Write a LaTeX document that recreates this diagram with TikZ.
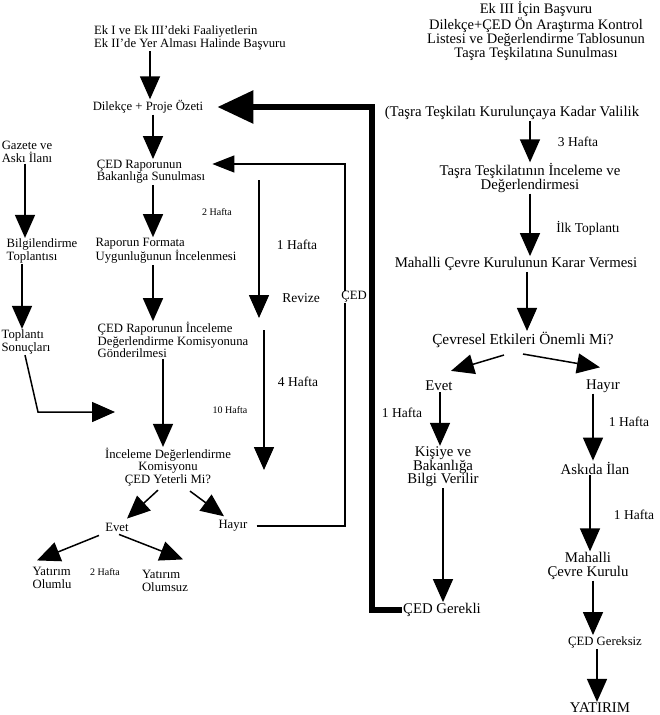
\documentclass[tikz,border=0pt]{standalone}
\usepackage{fontspec}
\setmainfont{Liberation Serif}
\usetikzlibrary{arrows.meta,calc}
\begin{document}
\begin{tikzpicture}[x=1pt,y=-1pt,
  txt/.style={inner sep=1pt, font=\fontsize{12.7}{12.3}\selectfont, align=left},
  ctxt/.style={inner sep=1pt, font=\fontsize{12.7}{12.3}\selectfont, align=center},
  rtxt/.style={inner sep=1pt, font=\fontsize{14.8}{13.5}\selectfont, align=center},
  sml/.style={inner sep=1pt, font=\fontsize{10}{10}\selectfont},
  lbl/.style={inner sep=1pt, font=\fontsize{13.5}{13.5}\selectfont},
  arr/.style={draw, line width=1.5pt, -{Triangle[width=20pt,length=23pt]}},
  thinarr/.style={draw, line width=1.2pt, line join=miter, -{Triangle[width=17pt,length=22pt]}},
  fatarr/.style={draw, line width=6pt, line join=miter, -{Triangle[width=32pt,length=36pt]}}
]
\fill[white] (0,0) rectangle (659,715);
\useasboundingbox (0,0) rectangle (659,715);

% ---- left column
\node[txt] (ek1) at (190,38) {Ek I ve Ek III'deki Faaliyetlerin\\Ek II'de Yer Alması Halinde Başvuru};
\node[txt] (dil) at (148,107) {Dilekçe + Proje Özeti};
\node[txt] (ced1) at (151,172) {ÇED Raporunun\\Bakanlığa Sunulması};
\node[txt] (rap) at (166,251) {Raporun Formata\\Uygunluğunun İncelenmesi};
\node[txt] (ced2) at (173,340) {ÇED Raporunun İnceleme\\Değerlendirme Komisyonuna\\Gönderilmesi};
\node[ctxt] (ince) at (168,467) {İnceleme Değerlendirme\\Komisyonu\\ÇED Yeterli Mi?};
\node[txt] (evetL) at (117,527) {Evet};
\node[txt] (hayirL) at (233,526) {Hayır};
\node[txt] (yatOl) at (52,578) {Yatırım\\Olumlu};
\node[txt] (yatOs) at (165,581) {Yatırım\\Olumsuz};
\node[sml] (haf2b) at (105,572) {2 Hafta};

\node[txt] (gaz) at (27,152) {Gazete ve\\Askı İlanı};
\node[txt] (bil) at (42,251) {Bilgilendirme\\Toplantısı};
\node[txt] (top) at (26,342) {Toplantı\\Sonuçları};

\node[sml] (haf2a) at (217,212) {2 Hafta};
\node[lbl] (haf1) at (297,245) {1 Hafta};
\node[lbl] (rev) at (301,298) {Revize};
\node[lbl] (haf4) at (298,382) {4 Hafta};
\node[sml] (haf10) at (230,410) {10 Hafta};

% ---- right column
\node[rtxt, font=\fontsize{14.5}{12.6}\selectfont] (title) at (536,31) {Ek III İçin Başvuru\\Dilekçe+ÇED Ön Araştırma Kontrol\\Listesi ve Değerlendirme Tablosunun\\Taşra Teşkilatına Sunulması};
\node[rtxt] (val) at (512,113) {(Taşra Teşkilatı Kurulunçaya Kadar Valilik};
\node[lbl] (haf3) at (578,142) {3 Hafta};
\node[rtxt] (tasra) at (530,178) {Taşra Teşkilatının İnceleme ve\\Değerlendirmesi};
\node[lbl] (ilk) at (588,228) {İlk Toplantı};
\node[rtxt] (mah) at (516,264) {Mahalli Çevre Kurulunun Karar Vermesi};
\node[rtxt, font=\fontsize{15.3}{14}\selectfont] (cev) at (523,340) {Çevresel Etkileri Önemli Mi?};
\node[rtxt] (evetR) at (439,386) {Evet};
\node[rtxt] (hayirR) at (603,386) {Hayır};
\node[lbl] (haf1a) at (402,413) {1 Hafta};
\node[rtxt] (kisi) at (443,467) {Kişiye ve\\Bakanlığa\\Bilgi Verilir};
\node[lbl] (haf1b) at (629,422) {1 Hafta};
\node[rtxt] (aski) at (595,468) {Askıda İlan};
\node[lbl] (haf1c) at (634,515) {1 Hafta};
\node[rtxt] (mcev) at (588,566) {Mahalli\\Çevre Kurulu};
\node[ctxt] (gereksiz) at (605,642) {ÇED Gereksiz};
\node[rtxt] (yat) at (600,708) {YATIRIM};
\node[rtxt] (gerekli) at (442,610) {ÇED Gerekli};

% ---- left arrows
\draw[arr] (150,0 |- ek1.south) -- (150,0 |- dil.north);
\draw[arr] (153,0 |- dil.south) -- (153,0 |- ced1.north);
\draw[arr] (153,0 |- ced1.south) -- (153,0 |- rap.north);
\draw[arr] (153,0 |- rap.south) -- (153,0 |- ced2.north);
\draw[arr] (163,0 |- ced2.south) -- (163,0 |- ince.north);
\draw[arr] ($(ince.south)+(-10,3)$) -- ($(evetL.north)+(10,-3)$);
\draw[arr] ($(ince.south)+(22,4)$) -- ($(hayirL.north)+(-9,-3)$);
\draw[arr] ($(evetL.south)+(-18,3)$) -- ($(yatOl.north)+(-15,-6)$);
\draw[arr] ($(evetL.south)+(2,2)$) -- ($(yatOs.north)+(18,-10)$);

\draw[arr] (25,0 |- gaz.south) -- (25,0 |- bil.north);
\draw[arr] (22,0 |- bil.south) -- (22,0 |- top.north);
\coordinate (tb) at (38,412);
\coordinate (te) at (115,412);
\draw[arr, line join=miter] (25,0 |- top.south) -- (tb) -- (te);

\coordinate (r1) at (259,180);
\coordinate (r2) at (259,318);
\coordinate (r3) at (264,330);
\coordinate (r4) at (264,470);
\draw[arr] (r1) -- (r2);
\draw[arr] (r3) -- (r4);

% loop from Hayir back to CED Raporunun
\coordinate (lp) at ($(ced1.east)+(6,-8)$);
\draw[thinarr, shorten <=8pt] (hayirL.east) -- (345,0 |- hayirL.east) -- (345,0 |- lp) -- (lp);
\node[txt, fill=white, inner sep=0pt] (cedlbl) at (354,297) {ÇED};

% thick line from CED Gerekli back to Dilekce
\draw[fatarr, shorten >=13pt] (gerekli.west) -- (372,0 |- gerekli.west) -- (372,0 |- dil.east) -- (dil.east);

% ---- right arrows
\draw[arr] (530,0 |- val.south) -- (530,0 |- tasra.north);
\draw[arr] (530,0 |- tasra.south) -- (530,0 |- mah.north);
\draw[arr] (527,0 |- mah.south) -- (527,0 |- cev.north);
\draw[arr] ($(cev.south)+(-19,6)$) -- ($(evetR.north)+(12,-9)$);
\draw[arr] ($(cev.south)+(0,5)$) -- ($(hayirR.north)+(-3,-11)$);
\draw[arr] (440,0 |- evetR.south) -- (440,0 |- kisi.north);
\draw[arr] (593,0 |- hayirR.south) -- (593,0 |- aski.north);
\draw[arr] (590,0 |- aski.south) -- (590,0 |- mcev.north);
\draw[arr] (443,0 |- kisi.south) -- (443,0 |- gerekli.north);
\draw[arr] (593,0 |- mcev.south) -- (593,0 |- gereksiz.north);
\draw[arr] (597,0 |- gereksiz.south) -- (597,0 |- yat.north);
\end{tikzpicture}
\end{document}
